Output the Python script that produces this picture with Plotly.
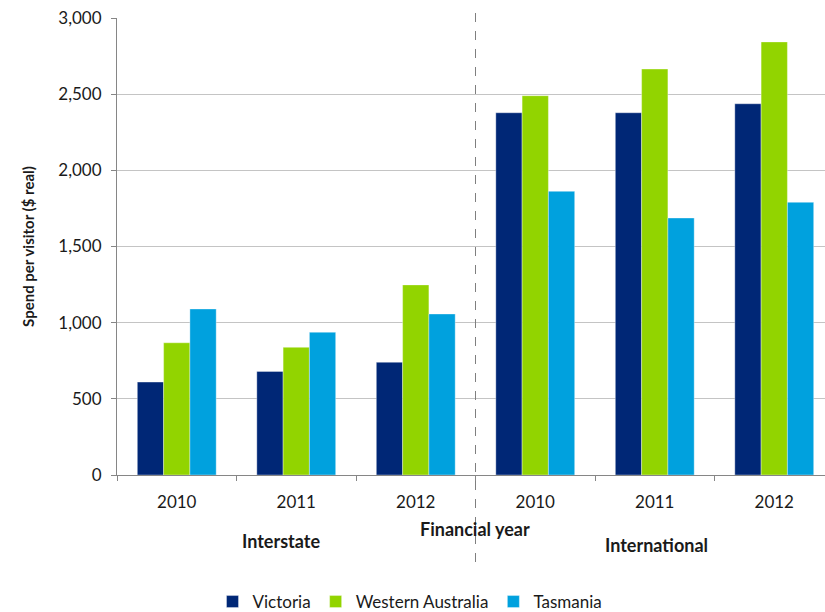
import plotly.graph_objects as go

years = ["2010", "2011", "2012", "2010", "2011", "2012"]
groups = ["Interstate", "International"]
axis_title_x = "Financial year"
axis_title_y = "Spend per visitor ($ real)"
victoria = [610, 680, 740, 2378, 2378, 2437]
western_australia = [868, 838, 1248, 2490, 2665, 2843]
tasmania = [1090, 937, 1057, 1862, 1687, 1790]
y_ticks = [0, 500, 1000, 1500, 2000, 2500, 3000]

series = [
    ("Victoria", victoria, "#002776"),
    ("Western Australia", western_australia, "#92D400"),
    ("Tasmania", tasmania, "#00A1DE"),
]

x = list(range(len(years)))
FONT = "Lato"
TXT = "#1a1a1a"

fig = go.Figure()
for name, vals, col in series:
    fig.add_trace(go.Bar(x=x, y=vals, name=name,
                         marker=dict(color=col, line=dict(width=0.6, color="rgba(255,255,255,0.6)"))))

W, H = 825, 612
ml, mt, mb, mr = 117, 18, 137, 0
pw = W - ml - mr
ph = H - mt - mb
unit = 119.5
xmax = -0.5 + pw / unit

def px2x(px):
    return (px - ml) / pw

def py2y(py):
    return (H - mb - py) / ph

fig.update_layout(
    width=W, height=H,
    margin=dict(l=ml, r=mr, t=mt, b=mb, pad=0, autoexpand=False),
    paper_bgcolor="white", plot_bgcolor="white",
    barmode="group", bargap=0.34, bargroupgap=0,
    font=dict(family=FONT, size=17, color=TXT),
    showlegend=True,
    legend=dict(orientation="h", x=px2x(410), xanchor="center", y=py2y(602), yanchor="middle",
                font=dict(size=17, family=FONT, color=TXT), tracegroupgap=0, traceorder="normal"),
    xaxis=dict(range=[-0.5, xmax], tickvals=x, ticktext=years, ticks="",
               showgrid=False, zeroline=False, showline=True, linecolor="#868686", linewidth=1,
               tickfont=dict(size=17, family=FONT, color=TXT), ticklabelstandoff=12,
               minor=dict(tickvals=[i - 0.5 for i in range(len(years) + 1)], ticks="outside", ticklen=5,
                          tickcolor="#868686", showgrid=False)),
    yaxis=dict(range=[0, 3000], tickvals=y_ticks, tickformat=",", ticks="outside", ticklen=5,
               tickcolor="#868686", showline=True, linecolor="#868686", linewidth=1,
               showgrid=True, gridcolor="#C4C4C4", gridwidth=1, zeroline=False,
               tickfont=dict(size=17, family=FONT, color=TXT), ticklabelstandoff=6,
               title=dict(text="<b>" + axis_title_y + "</b>", font=dict(size=15, family=FONT, color=TXT), standoff=20)),
)

fig.add_shape(type="line", xref="x", yref="paper", x0=2.5, x1=2.5, y0=py2y(562), y1=py2y(12),
              line=dict(color="#7f7f7f", width=1, dash="dash"))

for txt, cx, cy in [(axis_title_x, 475, 529), (groups[0], 281, 541), (groups[1], 656, 545)]:
    fig.add_annotation(text="<b>" + txt + "</b>", xref="paper", yref="paper", x=px2x(cx), y=py2y(cy),
                       showarrow=False, font=dict(size=18, family=FONT, color=TXT),
                       xanchor="center", yanchor="middle")

fig.write_html("out.html")
